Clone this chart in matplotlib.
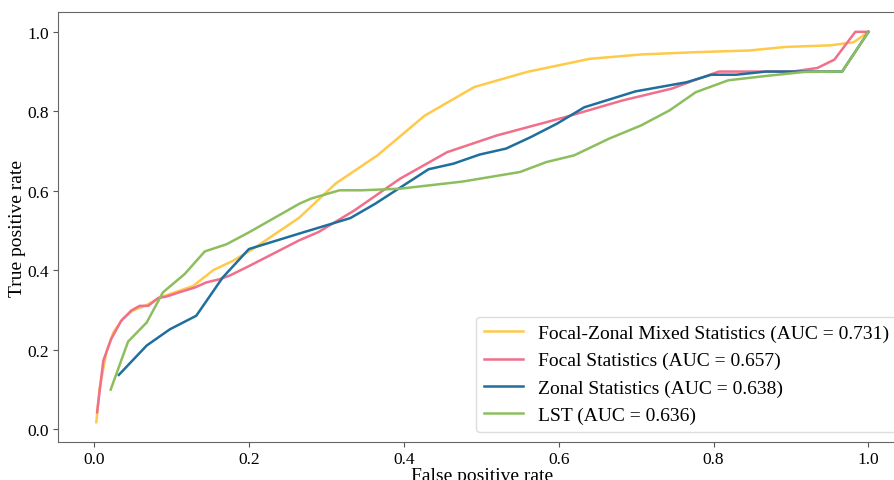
import matplotlib.pyplot as plt

# ROC curves
fpr_mixed = [0.003, 0.007, 0.016, 0.025, 0.037, 0.05, 0.068, 0.085, 0.128, 0.154,
             0.179, 0.205, 0.265, 0.312, 0.366, 0.427, 0.491, 0.559, 0.640, 0.706,
             0.78, 0.846, 0.893, 0.951, 0.981, 1.0]
tpr_mixed = [0.017, 0.10, 0.193, 0.243, 0.277, 0.298, 0.312, 0.331, 0.36, 0.40,
             0.423, 0.453, 0.532, 0.618, 0.689, 0.789, 0.861, 0.899, 0.932, 0.943,
             0.949, 0.953, 0.962, 0.966, 0.974, 1.0]

fpr_focal = [0.004, 0.012, 0.022, 0.035, 0.048, 0.059, 0.070, 0.083, 0.093, 0.11,
             0.13, 0.145, 0.162, 0.175, 0.20, 0.265, 0.29, 0.336, 0.395, 0.456,
             0.52, 0.608, 0.682, 0.746, 0.775, 0.807, 0.853, 0.902, 0.934, 0.956,
             0.983, 1.0]
tpr_focal = [0.042, 0.172, 0.226, 0.272, 0.298, 0.31, 0.31, 0.33, 0.333, 0.344,
             0.356, 0.369, 0.377, 0.386, 0.41, 0.475, 0.496, 0.55, 0.63, 0.697,
             0.739, 0.785, 0.827, 0.857, 0.878, 0.90, 0.90, 0.90, 0.909, 0.93,
             1.0, 1.0]

fpr_zonal = [0.032, 0.068, 0.098, 0.132, 0.166, 0.20, 0.265, 0.331, 0.363, 0.432,
             0.464, 0.498, 0.532, 0.564, 0.598, 0.633, 0.699, 0.765, 0.797, 0.829,
             0.868, 0.902, 0.966, 1.0]
tpr_zonal = [0.136, 0.21, 0.251, 0.285, 0.381, 0.453, 0.492, 0.531, 0.567, 0.654,
             0.668, 0.691, 0.706, 0.735, 0.769, 0.81, 0.85, 0.873, 0.892, 0.892,
             0.90, 0.90, 0.90, 1.0]

fpr_lst = [0.0215, 0.044, 0.068, 0.089, 0.117, 0.143, 0.171, 0.20, 0.265, 0.28,
           0.317, 0.346, 0.395, 0.476, 0.55, 0.584, 0.62, 0.665, 0.706, 0.743,
           0.777, 0.819, 0.868, 0.917, 0.966, 1.0]
tpr_lst = [0.099, 0.22, 0.268, 0.344, 0.39, 0.447, 0.465, 0.495, 0.567, 0.58,
           0.601, 0.601, 0.605, 0.623, 0.647, 0.672, 0.689, 0.731, 0.764, 0.802,
           0.848, 0.878, 0.889, 0.899, 0.90, 1.0]

labels = ["Focal-Zonal Mixed Statistics (AUC = 0.731)",
          "Focal Statistics (AUC = 0.657)",
          "Zonal Statistics (AUC = 0.638)",
          "LST (AUC = 0.636)"]
colors = ["#FFC94A", "#F06F8A", "#1F6F9E", "#8DBE5E"]

plt.rcParams["font.family"] = ["Liberation Serif", "DejaVu Serif"]

fig = plt.figure(figsize=(8.95, 4.81), dpi=100)
# the original is cropped on the right, so the axes runs slightly past the edge
ax = fig.add_axes([0.0645, 0.0796, 0.949, 0.8927])

curves = [(fpr_mixed, tpr_mixed), (fpr_focal, tpr_focal),
          (fpr_zonal, tpr_zonal), (fpr_lst, tpr_lst)]
for (x, y), lab, c in zip(curves, labels, colors):
    ax.plot(x, y, color=c, linewidth=1.8, label=lab)

ax.set_xlabel("False positive rate", fontsize=14, labelpad=0)
ax.set_ylabel("True positive rate", fontsize=14)
ax.yaxis.set_label_coords(-0.037, 0.5)
ax.tick_params(labelsize=12.5, color="#555555", length=3.5, pad=3)
for s in ax.spines.values():
    s.set_color("#666666")

ax.legend(loc="lower right", fontsize=14, labelspacing=0.5,
          framealpha=1, edgecolor="#dddddd")

fig.savefig("out.png", dpi=100)
